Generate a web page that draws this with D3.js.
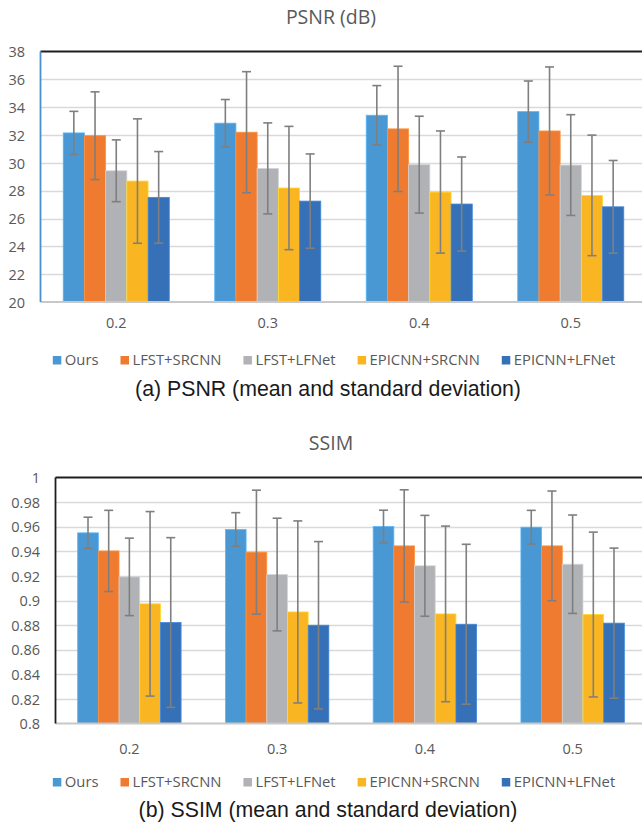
<!DOCTYPE html>
<html>
<head>
<meta charset="utf-8">
<script src="https://cdn.jsdelivr.net/npm/d3@7"></script>
<style>
  body { margin: 0; background: #fff; }
  svg { display: block; }
  .tick-label { font-family: "Open Sans", sans-serif; fill: #595959; }
  .caption { font-family: "Liberation Sans", Arial, sans-serif; fill: #1a1a1a; }
</style>
</head>
<body>
<svg id="chart" width="642" height="827"></svg>
<script>
// categories and series
var categories = ["0.2", "0.3", "0.4", "0.5"];
var seriesNames = ["Ours", "LFST+SRCNN", "LFST+LFNet", "EPICNN+SRCNN", "EPICNN+LFNet"];
var seriesColors = ["#4a98d3", "#ef7b31", "#b1b2b5", "#fab622", "#3671b8"];

// PSNR mean / std, one row per series
var psnrMean = [
  [32.15, 32.85, 33.42, 33.68],
  [31.95, 32.20, 32.44, 32.29],
  [29.43, 29.60, 29.87, 29.84],
  [28.69, 28.19, 27.90, 27.66],
  [27.52, 27.25, 27.04, 26.84]
];
var psnrStd = [
  [1.55, 1.70, 2.13, 2.20],
  [3.15, 4.35, 4.50, 4.60],
  [2.22, 3.27, 3.48, 3.62],
  [4.47, 4.43, 4.39, 4.33],
  [3.29, 3.39, 3.38, 3.33]
];
var psnrTicks = [20, 22, 24, 26, 28, 30, 32, 34, 36, 38];

// SSIM mean / std
var ssimMean = [
  [0.9550, 0.9577, 0.9601, 0.9596],
  [0.9403, 0.9393, 0.9444, 0.9444],
  [0.9192, 0.9211, 0.9282, 0.9295],
  [0.8973, 0.8907, 0.8891, 0.8886],
  [0.8821, 0.8799, 0.8807, 0.8816]
];
var ssimStd = [
  [0.0127, 0.0137, 0.0133, 0.0137],
  [0.0330, 0.0504, 0.0456, 0.0446],
  [0.0315, 0.0458, 0.0410, 0.0400],
  [0.0750, 0.0740, 0.0714, 0.0670],
  [0.0690, 0.0680, 0.0650, 0.0610]
];
var ssimTicks = ["0.8", "0.82", "0.84", "0.86", "0.88", "0.9", "0.92", "0.94", "0.96", "0.98", "1"];

var svg = d3.select("#chart");

function drawChart(cfg) {
  var g = svg.append("g");

  var x0 = d3.scaleBand()
    .domain(categories)
    .range([cfg.left, cfg.right])
    .paddingInner(0.3)
    .paddingOuter(0.15);

  var x1 = d3.scaleBand()
    .domain(seriesNames)
    .range([0, x0.bandwidth()]);

  var y = d3.scaleLinear()
    .domain(cfg.domain)
    .range([cfg.bottom, cfg.top]);

  // title
  g.append("text")
    .attr("class", "tick-label")
    .attr("x", cfg.titleX)
    .attr("y", cfg.titleY)
    .attr("text-anchor", "middle")
    .style("font-size", "19.5px")
    .text(cfg.title);

  // gridlines
  g.selectAll(".grid")
    .data(cfg.ticks.slice(1, -1))
    .enter()
    .append("line")
    .attr("x1", cfg.left)
    .attr("x2", 642)
    .attr("y1", function(d) { return Math.round(y(+d)) + 0.5; })
    .attr("y2", function(d) { return Math.round(y(+d)) + 0.5; })
    .style("stroke", "#d9d9d9")
    .style("stroke-width", "1.5px");

  // y axis labels
  var yAxis = d3.axisLeft(y)
    .tickValues(cfg.ticks.map(Number))
    .tickFormat(function(d, i) { return String(cfg.ticks[i]); })
    .tickSize(0)
    .tickPadding(cfg.left - cfg.yLabelRight);
  var ya = g.append("g")
    .attr("transform", "translate(" + cfg.left + ",0)")
    .call(yAxis);
  ya.select(".domain").remove();
  ya.selectAll("text")
    .attr("class", "tick-label")
    .style("font-size", "14.5px")
    .attr("font-family", null)
    .attr("dy", "0.36em");

  // bars
  var groups = g.selectAll(".cat")
    .data(categories)
    .enter()
    .append("g")
    .attr("transform", function(d) { return "translate(" + x0(d) + ",0)"; });

  groups.selectAll("rect")
    .data(function(c, ci) {
      return seriesNames.map(function(s, si) {
        return { s: s, si: si, mean: cfg.mean[si][ci], std: cfg.std[si][ci] };
      });
    })
    .enter()
    .append("rect")
    .attr("x", function(d) { return x1(d.s); })
    .attr("width", x1.bandwidth())
    .attr("y", function(d) { return y(d.mean); })
    .attr("height", function(d) { return cfg.bottom - y(d.mean); })
    .style("fill", function(d) { return seriesColors[d.si]; })
    .style("stroke", function(d) { return d3.color(seriesColors[d.si]).brighter(0.5); })
    .style("stroke-width", "0.8px");

  // error bars
  var err = groups.selectAll(".err")
    .data(function(c, ci) {
      return seriesNames.map(function(s, si) {
        return { s: s, mean: cfg.mean[si][ci], std: cfg.std[si][ci] };
      });
    })
    .enter()
    .append("g")
    .attr("transform", function(d) { return "translate(" + (x1(d.s) + x1.bandwidth() / 2) + ",0)"; });

  err.append("line")
    .attr("y1", function(d) { return y(d.mean - d.std); })
    .attr("y2", function(d) { return y(d.mean + d.std); })
    .style("stroke", "#7f7f7f")
    .style("stroke-width", "1.6px");
  err.selectAll(".cap")
    .data(function(d) { return [d.mean - d.std, d.mean + d.std]; })
    .enter()
    .append("line")
    .attr("x1", -4.5)
    .attr("x2", 4.5)
    .attr("y1", function(d) { return y(d); })
    .attr("y2", function(d) { return y(d); })
    .style("stroke", "#7f7f7f")
    .style("stroke-width", "1.6px");

  // frame: top border, left border, bottom axis
  g.append("line")
    .attr("x1", cfg.left).attr("x2", 642)
    .attr("y1", cfg.top).attr("y2", cfg.top)
    .style("stroke", "#1e1e1e").style("stroke-width", "1.8px");
  g.append("line")
    .attr("x1", cfg.left).attr("x2", 642)
    .attr("y1", cfg.bottom).attr("y2", cfg.bottom)
    .style("stroke", "#c8c8c8").style("stroke-width", "2px");
  g.append("line")
    .attr("x1", cfg.left).attr("x2", cfg.left)
    .attr("y1", cfg.top).attr("y2", cfg.bottom)
    .style("stroke", cfg.leftColor).style("stroke-width", "1.8px");

  // x axis labels
  g.selectAll(".xl")
    .data(categories)
    .enter()
    .append("text")
    .attr("class", "tick-label")
    .attr("x", function(d) { return x0(d) + x0.bandwidth() / 2; })
    .attr("y", cfg.xLabelY)
    .attr("text-anchor", "middle")
    .style("font-size", "14.5px")
    .text(function(d) { return d; });

  // legend
  var leg = g.append("g");
  var items = leg.selectAll(".li")
    .data(seriesNames)
    .enter()
    .append("g");
  items.append("rect")
    .attr("width", 8.5).attr("height", 8.5)
    .attr("y", -9)
    .style("fill", function(d, i) { return seriesColors[i]; });
  items.append("text")
    .attr("class", "tick-label")
    .attr("x", 12)
    .attr("y", 0)
    .style("font-size", "14.8px")
    .text(function(d) { return d; });
  var xpos = 0;
  items.each(function() {
    var w = d3.select(this).select("text").node().getComputedTextLength();
    d3.select(this).attr("transform", "translate(" + xpos + ",0)");
    xpos += 12 + w + 22;
  });
  var total = xpos - 22;
  leg.attr("transform", "translate(" + (cfg.legendCenter - total / 2) + "," + cfg.legendY + ")");

  // caption
  g.append("text")
    .attr("class", "caption")
    .attr("x", cfg.captionX)
    .attr("y", cfg.captionY)
    .attr("text-anchor", "middle")
    .style("font-size", "21.3px")
    .text(cfg.caption);
}

drawChart({
  title: "PSNR (dB)", titleX: 331, titleY: 24,
  left: 40.5, right: 646.5, top: 51.5, bottom: 302,
  domain: [20, 38], ticks: psnrTicks, yLabelRight: 25,
  mean: psnrMean, std: psnrStd, leftColor: "#4a8fd0",
  xLabelY: 328, legendCenter: 334, legendY: 365,
  caption: "(a) PSNR (mean and standard deviation)", captionX: 328, captionY: 396
});

drawChart({
  title: "SSIM", titleX: 331, titleY: 450,
  left: 55.5, right: 646.5, top: 477.5, bottom: 723.5,
  domain: [0.8, 1], ticks: ssimTicks, yLabelRight: 40,
  mean: ssimMean, std: ssimStd, leftColor: "#1e1e1e",
  xLabelY: 754, legendCenter: 334, legendY: 787,
  caption: "(b) SSIM (mean and standard deviation)", captionX: 328, captionY: 817
});
</script>
</body>
</html>
